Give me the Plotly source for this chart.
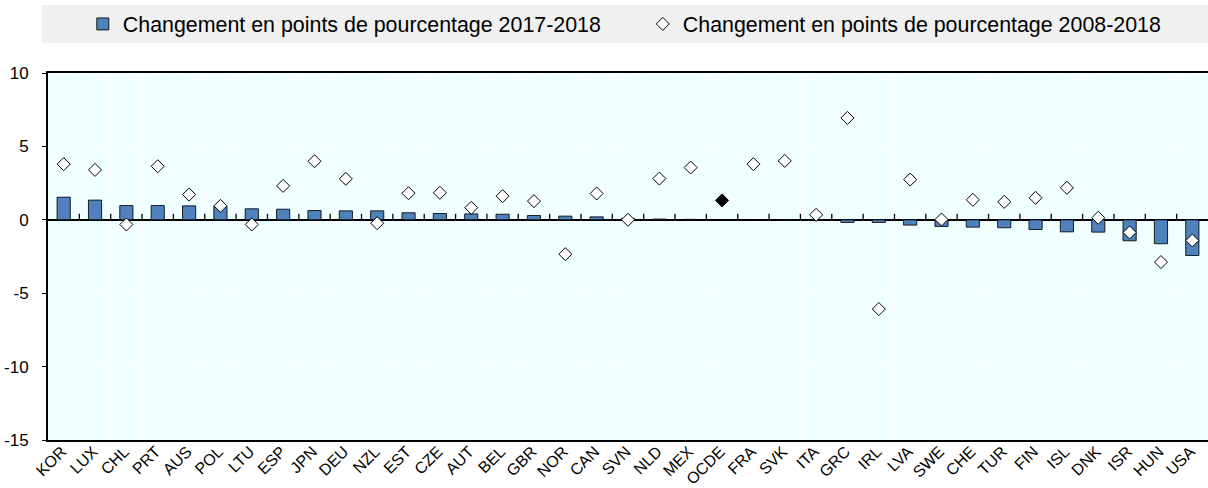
import plotly.graph_objects as go

countries = ["KOR", "LUX", "CHL", "PRT", "AUS", "POL", "LTU", "ESP", "JPN", "DEU", "NZL", "EST",
             "CZE", "AUT", "BEL", "GBR", "NOR", "CAN", "SVN", "NLD", "MEX", "OCDE", "FRA", "SVK",
             "ITA", "GRC", "IRL", "LVA", "SWE", "CHE", "TUR", "FIN", "ISL", "DNK", "ISR", "HUN", "USA"]

change_2017_2018 = [1.54, 1.34, 0.97, 0.97, 0.95, 0.92, 0.75, 0.72, 0.63, 0.61, 0.61, 0.48,
                    0.43, 0.40, 0.38, 0.29, 0.25, 0.20, 0.10, 0.05, 0.03, None, 0.01, -0.04,
                    -0.05, -0.18, -0.18, -0.36, -0.45, -0.50, -0.54, -0.66, -0.82, -0.84, -1.43, -1.63, -2.43]

change_2008_2018 = [3.79, 3.40, -0.32, 3.65, 1.72, 0.95, -0.32, 2.31, 3.99, 2.79, -0.23, 1.81,
                    1.84, 0.82, 1.61, 1.27, -2.34, 1.79, 0.00, 2.81, 3.56, 1.32, 3.79, 4.01,
                    0.34, 6.94, -6.08, 2.74, 0.02, 1.36, 1.22, 1.50, 2.18, 0.14, -0.86, -2.88, -1.41]

highlight = "OCDE"

y_ticks = [-15, -10, -5, 0, 5, 10]
y_ticktext = ["-15", "-10", "-5", "0", "5", "10"]

legend_1 = "Changement en points de pourcentage 2017-2018"
legend_2 = "Changement en points de pourcentage 2008-2018"

FONT = "Liberation Sans, Arial, sans-serif"

x_main = [c for c in countries if c != highlight]
y_main = [v for c, v in zip(countries, change_2008_2018) if c != highlight]
x_hl = [c for c in countries if c == highlight]
y_hl = [v for c, v in zip(countries, change_2008_2018) if c == highlight]

fig = go.Figure()
fig.add_trace(go.Bar(
    x=countries, y=change_2017_2018, name=legend_1,
    marker=dict(color="#4F81BD", line=dict(color="rgba(0,0,0,0.85)", width=1)),
    width=0.42,
))
fig.add_trace(go.Scatter(
    x=x_main, y=y_main, mode="markers", name=legend_2,
    marker=dict(symbol="diamond", size=10, color="white", line=dict(color="black", width=1)),
))
fig.add_trace(go.Scatter(
    x=x_hl, y=y_hl, mode="markers", name=highlight, showlegend=False,
    marker=dict(symbol="diamond", size=10, color="black", line=dict(color="black", width=1)),
))

shapes = []
# gray legend band
shapes.append(dict(type="rect", xref="paper", yref="paper", x0=-0.0052, x1=1.0,
                   y0=1.0826, y1=1.1853, fillcolor="#F0F0F0", line=dict(width=0), layer="below"))
# small tick marks on the zero line at category boundaries
for i in range(len(countries) - 1):
    shapes.append(dict(type="line", xref="x", yref="y", x0=i + 0.5, x1=i + 0.5,
                       ysizemode="pixel", yanchor=0, y0=0, y1=6,
                       line=dict(color="black", width=1.3)))

fig.update_layout(
    width=1208, height=488,
    margin=dict(l=48, r=0, t=73, b=48, autoexpand=False),
    paper_bgcolor="white",
    plot_bgcolor="#F0FFFF",
    font=dict(family=FONT, size=17, color="black"),
    showlegend=True,
    legend=dict(orientation="h", x=0.030, xanchor="left", y=1.1335, yanchor="middle",
                bgcolor="rgba(0,0,0,0)", font=dict(family=FONT, size=21.4, color="black"),
                entrywidth=515, entrywidthmode="pixels", itemclick=False),
    shapes=shapes,
    xaxis=dict(type="category", categoryorder="array", categoryarray=countries,
               range=[-0.5, len(countries) - 0.5], automargin=False,
               tickson="boundaries", ticks="", showgrid=True, gridcolor="white", gridwidth=1,
               showline=True, mirror=True, linecolor="black", linewidth=2,
               tickangle=-45, tickfont=dict(family=FONT, size=16, color="black"),
               ticklabelstandoff=-6, ticklabelshift=-2, zeroline=False),
    yaxis=dict(range=[-15, 10], tickmode="array", tickvals=y_ticks, ticktext=y_ticktext,
               automargin=False,
               showgrid=True, gridcolor="white", gridwidth=1,
               zeroline=True, zerolinecolor="black", zerolinewidth=2,
               showline=True, linecolor="black", linewidth=2, mirror=False,
               ticks="outside", ticklen=4, tickcolor="black", tickwidth=1,
               ticklabelstandoff=10, tickfont=dict(family=FONT, size=17, color="black")),
)

fig.write_html("out.html", config={"displayModeBar": False},
               post_script="document.body.style.margin='0';")
